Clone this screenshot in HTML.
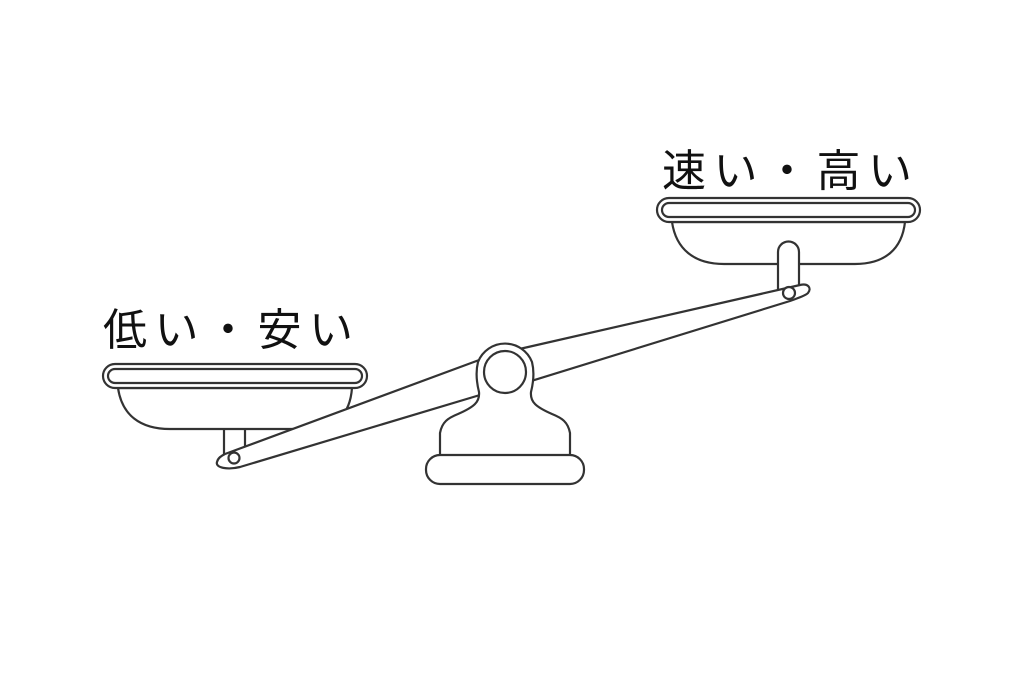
<!DOCTYPE html>
<html><head><meta charset="utf-8"><style>
html,body{margin:0;padding:0;background:#fff;}
svg{display:block}
text{font-family:"Liberation Sans","Noto Sans CJK JP",sans-serif;fill:#111;}
</style></head><body>
<svg width="1024" height="683" viewBox="0 0 1024 683" xmlns="http://www.w3.org/2000/svg">
<g fill="#fff" stroke="#333" stroke-width="2.2" stroke-linejoin="round">
  <!-- left pan -->
  <rect x="224" y="420" width="21" height="42"/>
  <path d="M118 388 C122 415 140 429 170 429 L310 429 C335 429 350 415 352 388 Z"/>
  <rect x="103" y="364" width="264" height="24" rx="12"/>
  <rect x="108" y="369" width="254" height="14" rx="7"/>
  <!-- right pan -->
  <path d="M672 222 C676 249 694 264 724 264 L855 264 C885 264 902 249 905 222 Z"/>
  <path d="M778 292 L778 252 A10.5 10.5 0 0 1 799 252 L799 292"/>
  <rect x="657" y="198" width="263" height="24" rx="12"/>
  <rect x="662" y="203" width="253" height="14" rx="7"/>
  <!-- beam -->
  <path d="M225 454 L490 356 L490 392 L240 467 C228 470 215 468 217 462 C218 458 221 456 225 454 Z"/>
  <path d="M515 350 L800 285 C808 283 812 288 808 293 C805 296 798 298 790 301 L515 386 Z"/>
  <circle cx="234" cy="458" r="5.5"/>
  <circle cx="789" cy="293" r="6"/>
  <!-- pivot body + head -->
  <path d="M440 458 L440 433 C442 422 448 418 458 414 C474 407 480 402 479 392 C476 380 476 370 478 362 A29 29 0 0 1 532 362 C534 370 534 380 531 392 C530 402 536 407 552 414 C562 418 568 422 570 433 L570 458" />
  <circle cx="505" cy="372" r="21"/>
  <!-- stand base -->
  <rect x="426" y="455" width="158" height="29" rx="14"/>
</g>
<text x="103" y="345" font-size="44" textLength="250" lengthAdjust="spacing">低い・安い</text>
<text x="662" y="186" font-size="44" textLength="250" lengthAdjust="spacing">速い・高い</text>
</svg>
</body></html>
